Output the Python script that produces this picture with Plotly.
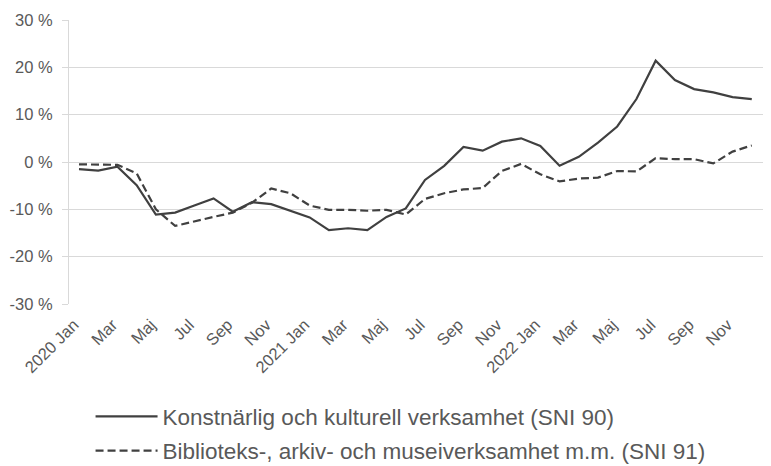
import plotly.graph_objects as go

# months 2020 Jan - 2022 Dec
months = [f"{y}-{m:02d}" for y in (2020, 2021, 2022) for m in range(1, 13)]
month_names = ["Jan", "Mar", "Maj", "Jul", "Sep", "Nov"]
tick_labels = []
for y in (2020, 2021, 2022):
    for i, n in enumerate(month_names):
        tick_labels.append(f"{y} {n}" if i == 0 else n)
tick_months = months[::2]

# Konstnärlig och kulturell verksamhet (SNI 90), procent
sni90 = [-1.5, -1.8, -1.0, -4.9, -11.1, -10.7, -9.2, -7.7, -10.5, -8.5, -8.9, -10.3,
         -11.7, -14.4, -14.0, -14.4, -11.6, -9.8, -3.8, -0.8, 3.2, 2.4, 4.3, 5.0,
         3.4, -0.8, 1.1, 4.1, 7.5, 13.3, 21.4, 17.3, 15.4, 14.7, 13.7, 13.3]
# Biblioteks-, arkiv- och museiverksamhet m.m. (SNI 91), procent
sni91 = [-0.5, -0.6, -0.6, -2.4, -10.0, -13.5, -12.5, -11.6, -10.7, -8.6, -5.6, -6.6,
         -9.2, -10.1, -10.1, -10.3, -10.1, -11.1, -7.8, -6.6, -5.8, -5.5, -1.9, -0.4,
         -2.6, -4.1, -3.5, -3.3, -1.9, -2.0, 0.8, 0.6, 0.6, -0.3, 2.2, 3.5]

y_ticks = [30, 20, 10, 0, -10, -20, -30]
y_labels = [f"{v} %" for v in y_ticks]

line_color = "#404040"
text_color = "#595959"
grid_color = "#d9d9d9"

fig = go.Figure()
fig.add_trace(go.Scatter(x=months, y=sni90, mode="lines", legendgroup="a",
                         name="Konstnärlig och kulturell verksamhet (SNI 90)",
                         line=dict(color=line_color, width=2.2)))
fig.add_trace(go.Scatter(x=months, y=sni91, mode="lines", legendgroup="b",
                         name="Biblioteks-, arkiv- och museiverksamhet m.m. (SNI 91)",
                         line=dict(color=line_color, width=2.2, dash="8px,4px")))

# page body has an 8px margin, so the figure is a bit smaller than the window
fig.update_layout(
    width=763, height=458,
    margin=dict(l=61, r=0, t=12, b=162, autoexpand=False),
    plot_bgcolor="white", paper_bgcolor="white",
    font=dict(family="Liberation Sans, Arial", color=text_color, size=15),
    legend=dict(x=0.0307, y=-0.3215, xanchor="left", yanchor="top",
                font=dict(size=22.5, color=text_color), tracegroupgap=2,
                itemwidth=62),
    showlegend=True,
)
fig.update_xaxes(type="category", categoryorder="array", categoryarray=months,
                 tickvals=tick_months, ticktext=tick_labels, tickangle=-45,
                 range=[-0.52, 36.0], showgrid=False, showline=False,
                 ticks="", ticklabelshift=-5, ticklabelstandoff=7,
                 tickfont=dict(size=16.5, color=text_color))
fig.update_yaxes(range=[-30, 30], tickvals=y_ticks, ticktext=y_labels,
                 showgrid=True, gridcolor=grid_color, gridwidth=1,
                 zeroline=False, showline=True, linecolor=grid_color, linewidth=1,
                 ticks="outside", ticklen=6, tickcolor=grid_color,
                 ticklabelstandoff=6,
                 tickfont=dict(size=16.5, color=text_color))

fig.write_html("out.html")
